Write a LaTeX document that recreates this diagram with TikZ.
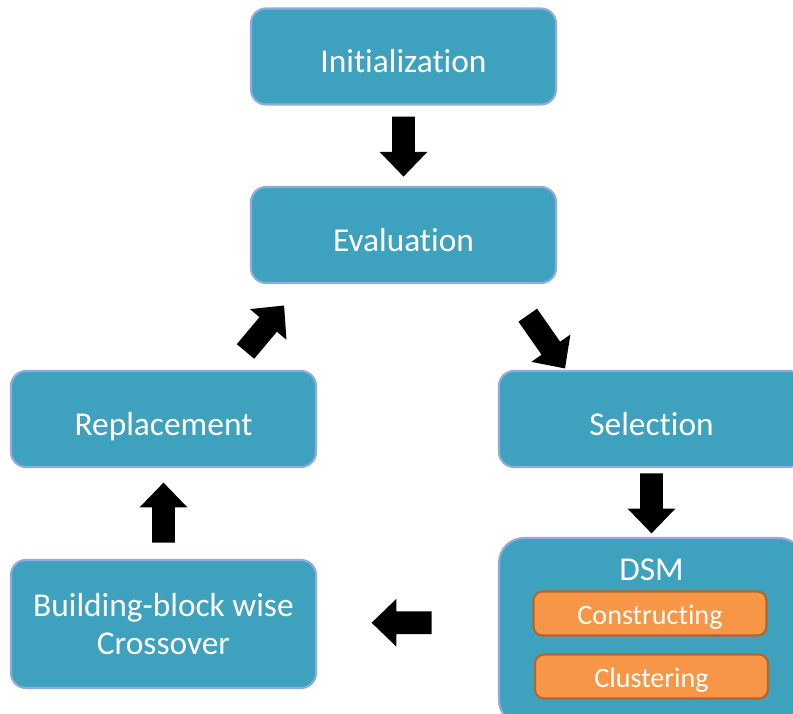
\documentclass[tikz,border=0pt]{standalone}
\usepackage{fontspec}
\setmainfont{Carlito}[Ligatures=NoCommon]
\usepackage{tikz}
\usetikzlibrary{shapes.arrows, calc}
\definecolor{boxfill}{RGB}{62,161,190}
\definecolor{boxline}{RGB}{143,172,222}
\definecolor{subfill}{RGB}{247,150,70}
\definecolor{subline}{RGB}{182,101,42}
\tikzstyle{Base}=[rectangle, rounded corners=0.3cm, minimum width=6.1cm, minimum height=1.92cm, fill=boxfill, draw=boxline, line width=1.2pt, text=white, align=center, font=\fontsize{19}{22}\selectfont]
\tikzstyle{Step}=[Base, text height=0.76cm, text depth=0.1cm]
\tikzstyle{Sub}=[rectangle, rounded corners=0.18cm, minimum width=4.66cm, minimum height=0.88cm, fill=subfill, draw=subline, line width=1.2pt, text=white, text height=0.5cm, text depth=0.05cm, font=\fontsize{16}{19}\selectfont]
\tikzstyle{Flow}=[single arrow, fill=black, inner xsep=0pt, inner ysep=0.22cm, minimum height=1.2cm, single arrow head extend=0.25cm, single arrow tip angle=88]

\begin{document}
\begin{tikzpicture}
    \useasboundingbox (0,0) rectangle (15.86,14.26);
    \clip (0,0) rectangle (15.86,14.26);
    \path
    (8.07,13.13) node[Step] (init) {Initialization}
    (8.07,9.56) node[Step] (eval) {Evaluation}
    (13.03,5.88) node[Step] (select) {Selection}
    (3.27,5.88) node[Step] (replace) {Replacement}
    (3.27,1.78) node[Base, minimum height=2.56cm] (cross) {Building-block wise\\Crossover}
    (13.03,1.63) node[Base, minimum height=3.74cm, rounded corners=0.5cm] (dsm) {}
    (13.0,1.99) node[Sub] (build) {Constructing}
    (13.03,0.73) node[Sub] (cluster) {Clustering};

    \node[text=white, font=\fontsize{19}{22}\selectfont] (dsmlabel) at (13.03,2.86) {DSM};

    % block arrows between the steps
    \node[Flow, rotate=-90] (a1) at ($(init.south)!0.5!(eval.north) + (0,0.1)$) {};
    \node[Flow, rotate=-55, minimum height=1.3cm] (a2) at (10.86,7.52) {};
    \node[Flow, rotate=-90] (a3) at ($(select.south)!0.5!(dsm.north) + (0,0.1)$) {};
    \node[Flow, rotate=180] (a4) at ($(dsm.west)!0.5!(cross.east) + (0,0.1)$) {};
    \node[Flow, rotate=90] (a5) at ($(cross.north)!0.5!(replace.south) - (0,0.1)$) {};
    \node[Flow, rotate=50] (a6) at (5.22,7.6) {};
\end{tikzpicture}
\end{document}
